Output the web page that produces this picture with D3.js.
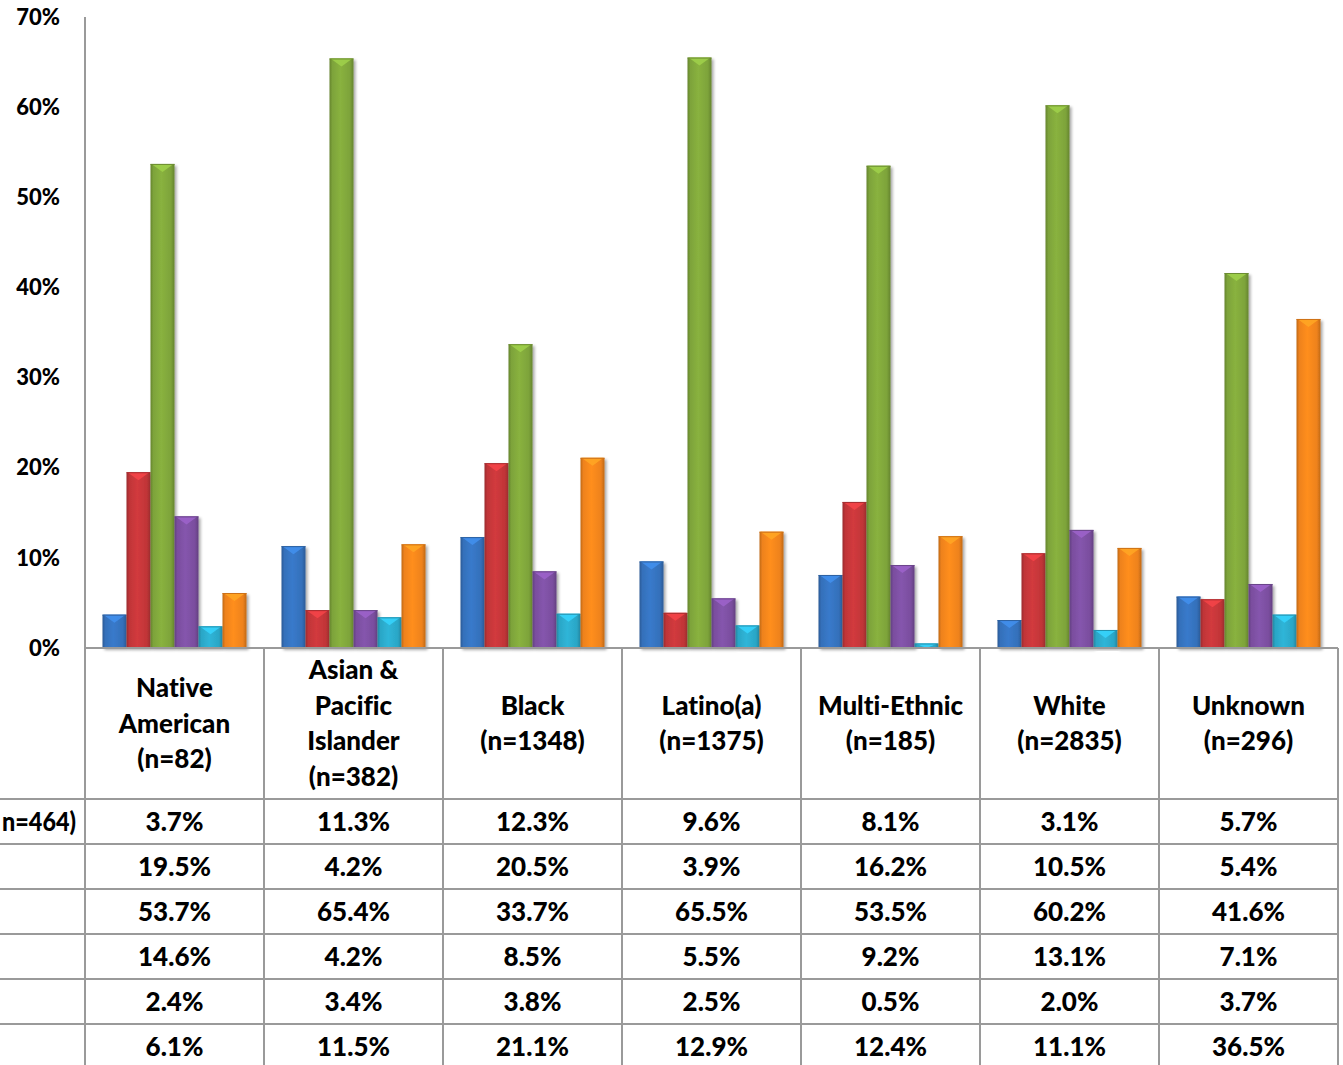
<!DOCTYPE html>
<html><head><meta charset="utf-8">
<script src="https://cdn.jsdelivr.net/npm/d3@7"></script>
<style>
html,body{margin:0;padding:0;background:#fff;overflow:hidden;}
svg{display:block;}
text{font-family:Lato,"Open Sans",sans-serif;font-weight:900;fill:#000;font-variant-ligatures:none;font-feature-settings:"liga" 0;}
</style></head>
<body>
<svg id="chart" width="1343" height="1065"></svg>
<script>
const categories = [
  ["Native","American","(n=82)"],
  ["Asian &","Pacific","Islander","(n=382)"],
  ["Black","(n=1348)"],
  ["Latino(a)","(n=1375)"],
  ["Multi-Ethnic","(n=185)"],
  ["White","(n=2835)"],
  ["Unknown","(n=296)"]
];
const seriesNames = ["n=464)","","","","",""];
const s1 = [3.7, 11.3, 12.3, 9.6, 8.1, 3.1, 5.7];
const s2 = [19.5, 4.2, 20.5, 3.9, 16.2, 10.5, 5.4];
const s3 = [53.7, 65.4, 33.7, 65.5, 53.5, 60.2, 41.6];
const s4 = [14.6, 4.2, 8.5, 5.5, 9.2, 13.1, 7.1];
const s5 = [2.4, 3.4, 3.8, 2.5, 0.5, 2.0, 3.7];
const s6 = [6.1, 11.5, 21.1, 12.9, 12.4, 11.1, 36.5];
const yTicks = [0,10,20,30,40,50,60,70];
const colors = ["#3470BA","#C03538","#7DA33A","#7A4E9E","#2BA6C6","#EE821C"];

(function(){
const series = [s1,s2,s3,s4,s5,s6];
const svg = d3.select("#chart");
const pLeft = 85, pRight = 1338, pTop = 17, base = 648;
const headerBottom = 799, rowH = 45;

const y = d3.scaleLinear().domain([0,70]).range([base, pTop]);
const x0 = d3.scaleBand().domain(d3.range(categories.length)).range([pLeft, pRight]).paddingInner(0).paddingOuter(0);
const x1 = d3.scaleBand().domain(d3.range(series.length)).range([0, x0.bandwidth()]).paddingInner(0).paddingOuter(0.729);

const defs = svg.append("defs");
colors.forEach((c,i)=>{
  const g = defs.append("linearGradient").attr("id","g"+i).attr("x1","0").attr("x2","1").attr("y1","0").attr("y2","0");
  const dk = d3.color(c).darker(0.6), lt = d3.color(c).brighter(0.25);
  g.append("stop").attr("offset","0").attr("stop-color",dk);
  g.append("stop").attr("offset","0.12").attr("stop-color",c);
  g.append("stop").attr("offset","0.45").attr("stop-color",lt);
  g.append("stop").attr("offset","0.85").attr("stop-color",c);
  g.append("stop").attr("offset","1").attr("stop-color",dk);
});
const shadow = defs.append("filter").attr("id","sh").attr("x","-20%").attr("y","-5%").attr("width","150%").attr("height","120%");
shadow.append("feGaussianBlur").attr("in","SourceAlpha").attr("stdDeviation","1.5");
shadow.append("feOffset").attr("dx","2").attr("dy","2").attr("result","b");
shadow.append("feComponentTransfer").append("feFuncA").attr("type","linear").attr("slope","0.35");
const fm = shadow.append("feMerge"); fm.append("feMergeNode"); fm.append("feMergeNode").attr("in","SourceGraphic");

// y axis labels
svg.append("g").selectAll("text").data(yTicks).join("text")
  .attr("x", 60).attr("y", d=>y(d)).attr("dy","0.35em")
  .attr("text-anchor","end").style("font-size","22px").text(d=>d+"%");

// bars
const gBars = svg.append("g");
series.forEach((vals,si)=>{
  vals.forEach((v,ci)=>{
    const bx = x0(ci)+x1(si), bw = x1.bandwidth(), by = y(v), bh = base - by;
    const g = gBars.append("g").attr("filter","url(#sh)");
    g.append("rect").attr("x",bx).attr("y",by).attr("width",bw).attr("height",bh)
      .attr("fill","url(#g"+si+")");
    const tri = Math.min(8, bh);
    const lt = d3.color(colors[si]).brighter(0.7);
    g.append("polygon")
      .attr("points",[[bx+1,by],[bx+bw-1,by],[bx+bw/2,by+tri]].map(p=>p.join(",")).join(" "))
      .attr("fill",lt).attr("opacity",0.85);
    g.append("line").attr("x1",bx).attr("x2",bx+bw).attr("y1",by+0.5).attr("y2",by+0.5)
      .attr("stroke",d3.color(colors[si]).darker(0.4)).attr("stroke-width",1);
  });
});

// grid / table lines
const lineColor = "#9a9a9a";
const tbl = svg.append("g").attr("stroke",lineColor).attr("stroke-width",2);
tbl.append("line").attr("x1",pLeft).attr("x2",pLeft).attr("y1",pTop).attr("y2",1065);
tbl.append("line").attr("x1",pLeft).attr("x2",pRight).attr("y1",base).attr("y2",base);
d3.range(1,categories.length+1).forEach(i=>{
  const xx = i<categories.length ? x0(i) : pRight;
  tbl.append("line").attr("x1",xx).attr("x2",xx).attr("y1",base).attr("y2",1065);
});
d3.range(series.length).forEach(r=>{
  const yy = headerBottom + r*rowH;
  tbl.append("line").attr("x1",0).attr("x2",pRight).attr("y1",yy).attr("y2",yy);
});

// header labels
const hdr = svg.append("g");
categories.forEach((lines,ci)=>{
  const cx = x0(ci)+x0.bandwidth()/2;
  const cy = (base+headerBottom)/2;
  const lh = 35.5;
  lines.forEach((t,li)=>{
    hdr.append("text").attr("x",cx).attr("y",cy + (li-(lines.length-1)/2)*lh).attr("dy","0.35em")
      .attr("text-anchor","middle").style("font-size","26px").text(t);
  });
});

// values
const vals = svg.append("g");
series.forEach((s,si)=>{
  const cy = headerBottom + si*rowH + rowH/2;
  s.forEach((v,ci)=>{
    vals.append("text").attr("x",x0(ci)+x0.bandwidth()/2).attr("y",cy).attr("dy","0.35em")
      .attr("text-anchor","middle").style("font-size","26px").text(v.toFixed(1)+"%");
  });
});
svg.append("text").attr("x",2).attr("y",headerBottom+rowH/2).attr("dy","0.35em")
  .attr("text-anchor","start").attr("textLength",74).attr("lengthAdjust","spacingAndGlyphs")
  .style("font-size","26px").text(seriesNames[0]);
})();
</script>
</body></html>
